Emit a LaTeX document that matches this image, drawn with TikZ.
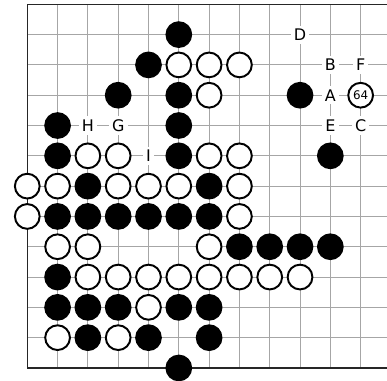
\documentclass[tikz,border=0pt]{standalone}
\usepackage{fontspec}
\setmainfont{DejaVu Sans}
\usepackage{tikz}
\tikzset{
  preta/.style={circle, fill=black, draw=black, line width=1.1pt, minimum size=0.49cm, inner sep=0pt},
  branca/.style={circle, fill=white, draw=black, line width=1.1pt, minimum size=0.49cm, inner sep=0pt, font=\fontsize{6.7}{7}\selectfont},
  letra/.style={fill=white, inner sep=1.8pt, font=\fontsize{9}{10}\selectfont},
  grade/.style={gray!70, line width=0.5pt},
  borda/.style={black!85, line width=0.7pt},
}

\begin{document}
\begin{tikzpicture}[x=0.6cm, y=0.6cm]
  \useasboundingbox (-0.9,-12.4) rectangle (11.87,0.142);
  % grade
  \foreach \l in {1,...,11} \draw[grade] (0,-\l) -- (11.87,-\l);
  \foreach \c in {1,...,11} \draw[grade] (\c,0) -- (\c,-12);
  \draw[borda] (11.87,0) -- (0,0) -- (0,-12) -- (11.87,-12);
  % pretas
  \foreach \c/\l in {5/1, 4/2, 3/3, 5/3, 9/3, 1/4, 5/4, 1/5, 5/5, 10/5, 2/6, 6/6,
    1/7, 2/7, 3/7, 4/7, 5/7, 6/7, 7/8, 8/8, 9/8, 10/8, 1/9,
    1/10, 2/10, 3/10, 5/10, 6/10, 2/11, 4/11, 6/11, 5/12}
    \node[preta] (p\c-\l) at (\c,-\l) {};
  % brancas
  \foreach \c/\l in {5/2, 6/2, 7/2, 6/3, 2/5, 3/5, 6/5, 7/5,
    0/6, 1/6, 3/6, 4/6, 5/6, 7/6, 0/7, 7/7, 1/8, 2/8, 6/8,
    2/9, 3/9, 4/9, 5/9, 6/9, 7/9, 8/9, 9/9, 4/10, 1/11, 3/11}
    \node[branca] (b\c-\l) at (\c,-\l) {};
  \node[branca] (b11-3) at (11,-3) {64};
  % letras
  \foreach \c/\l/\t in {9/1/D, 10/2/B, 11/2/F, 10/3/A, 2/4/H, 3/4/G, 10/4/E, 11/4/C, 4/5/I}
    \node[letra] (\t) at (\c,-\l) {\t};
\end{tikzpicture}
\end{document}
